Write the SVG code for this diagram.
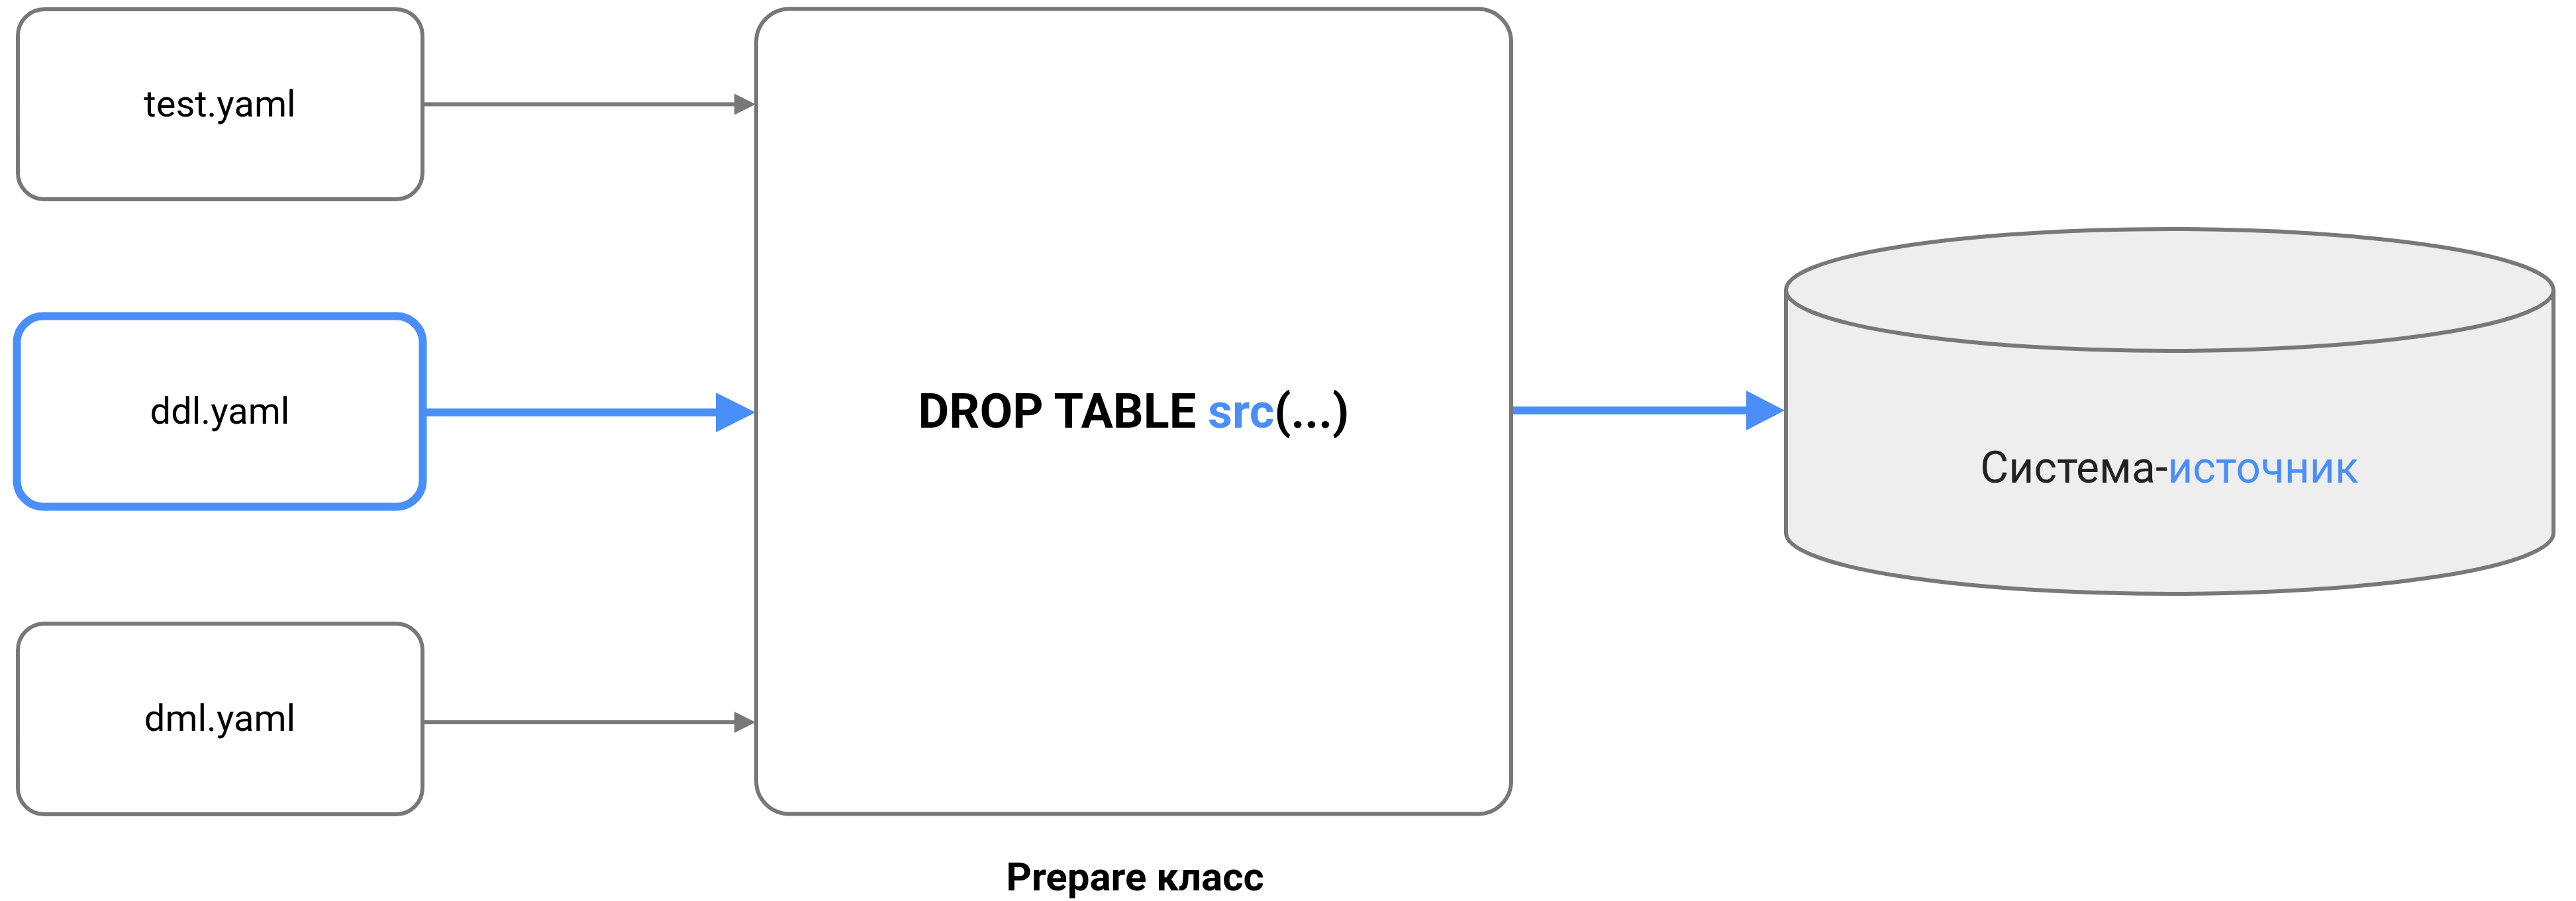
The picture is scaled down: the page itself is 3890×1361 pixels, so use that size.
<svg xmlns="http://www.w3.org/2000/svg" width="3890" height="1361" viewBox="0 0 3890 1361">
<style>
.box{fill:#ffffff;stroke:#787878;stroke-width:6}
.sel{fill:#ffffff;stroke:#4a8ef8;stroke-width:12}
.lbl{font-family:Roboto,"Liberation Sans",sans-serif;font-size:56px;fill:#000;text-anchor:middle}
.g{stroke:#787878;stroke-width:6;fill:none}
.b{stroke:#4a8ef8;stroke-width:12;fill:none}
.blue{fill:#4a8ef8}
</style>
<rect width="3890" height="1361" fill="#ffffff"/>
<g id="connectors">
  <line class="g" x1="641" y1="157.5" x2="1112" y2="157.5"/>
  <polygon points="1109,141.5 1141,157.5 1109,173.5" fill="#787878"/>
  <line class="b" x1="644" y1="623" x2="1085" y2="623"/>
  <polygon points="1081,593 1141,623 1081,653" class="blue"/>
  <line class="g" x1="641" y1="1091" x2="1112" y2="1091"/>
  <polygon points="1109,1075 1141,1091 1109,1107" fill="#787878"/>
  <line class="b" x1="2285" y1="620" x2="2640" y2="620"/>
  <polygon points="2637,590 2695,620 2637,650" class="blue"/>
</g>
<g id="node-test">
  <rect class="box" x="27" y="14" width="611" height="287" rx="40"/>
  <text class="lbl" x="332" y="176">test.yaml</text>
</g>
<g id="node-ddl">
  <rect class="sel" x="25.5" y="477.5" width="613" height="288" rx="40"/>
  <text class="lbl" x="332" y="640">ddl.yaml</text>
</g>
<g id="node-dml">
  <rect class="box" x="27" y="942" width="611" height="288" rx="40"/>
  <text class="lbl" x="332" y="1104">dml.yaml</text>
</g>
<g id="node-prepare">
  <rect class="box" x="1142" y="13.5" width="1140" height="1216" rx="50"/>
  <text x="1712" y="646" font-family="Roboto,'Liberation Sans',sans-serif" font-weight="bold" font-size="72" text-anchor="middle" fill="#000">DROP TABLE <tspan fill="#4a8ef8">src</tspan>(...)</text>
  <text x="1714" y="1345" font-family="Roboto,'Liberation Sans',sans-serif" font-weight="bold" font-size="60" text-anchor="middle" fill="#000">Prepare класс</text>
</g>
<g id="node-source">
  <path d="M2697,438 L2697,805 A579.5,92 0 0 0 3856,805 L3856,438" fill="#eeeeee" stroke="#787878" stroke-width="6"/>
  <ellipse cx="3276.5" cy="438" rx="579.5" ry="92" fill="#eeeeee" stroke="#787878" stroke-width="6"/>
  <text x="3276" y="729" font-family="Roboto,'Liberation Sans',sans-serif" font-size="66" text-anchor="middle" fill="#222222">Система-<tspan fill="#4a8ef8">источник</tspan></text>
</g>
</svg>
